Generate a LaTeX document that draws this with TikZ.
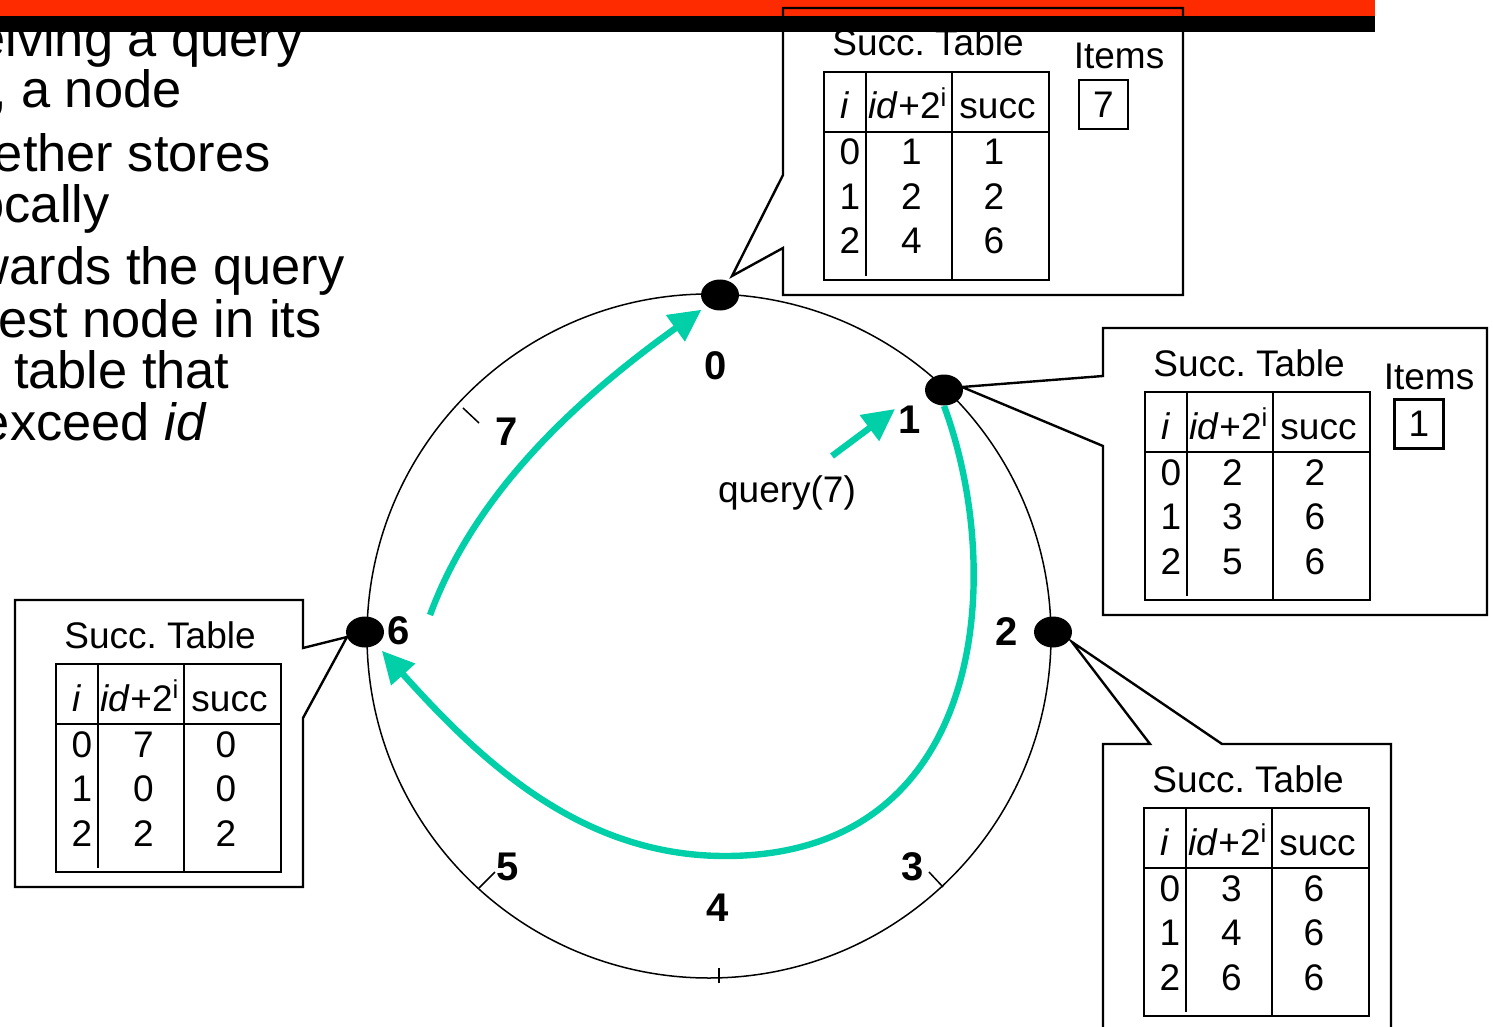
\documentclass[tikz,border=0pt]{standalone}
\usepackage{fontspec}
\setmainfont{Liberation Sans}
\usetikzlibrary{arrows.meta,shapes.geometric}
\definecolor{hopgreen}{HTML}{00CFA8}
\definecolor{barred}{HTML}{FF2B00}
\frenchspacing

% one successor table, top left corner at #2
\newcommand{\succtable}[3]{%
  \begin{scope}[shift={#2}]
    \node[tabtext] (#1title) at (104,-16) {Succ. Table};
    \draw[tabline] (0,0) rectangle (225,208);
    \draw[tabline] (0,60) -- (225,60) (128,0) -- (128,208);
    \draw[tabline] (42,0) -- (42,204);
    \node[tabtext] (#1i) at (21,47) {\textit{i}};
    \node[tabtext] (#1id) at (84,47) {\textit{id}+2\textsuperscript{i}};
    \node[tabtext] (#1succ) at (173.5,47) {succ};
    \foreach \tg/\nx [count=\k from 0] in {#3} {
      \node[tabtext] (#1row\k) at (26,93+44.5*\k) {\k};
      \node[tabtext] (#1tg\k) at (87.5,93+44.5*\k) {\tg};
      \node[tabtext] (#1nx\k) at (170,93+44.5*\k) {\nx};
    }
  \end{scope}}

\begin{document}
\begin{tikzpicture}[x=0.5pt, y=-0.5pt,
	bodytext/.style={anchor=base east, inner sep=0pt, font=\fontsize{26.2}{30}\selectfont},
	tabtext/.style={anchor=base, inner sep=0pt, font=\fontsize{18.5}{22}\selectfont},
	ringlabel/.style={inner sep=0pt, font=\fontsize{20}{24}\selectfont\bfseries},
	itembox/.style={draw, line width=1.2pt, minimum size=24.5pt, inner sep=0pt, font=\fontsize{18.5}{22}\selectfont},
	ring/.style={line width=0.75pt},
	tabline/.style={line width=1.2pt},
	callout/.style={line width=1.2pt},
	dot/.style={ellipse, fill=black, inner sep=0pt, minimum width=19pt, minimum height=15.5pt},
	hop/.style={hopgreen, line width=3.2pt, -{Triangle[length=16pt, width=15.5pt]}}]
	\useasboundingbox (0,0) rectangle (1493,1027);
	\clip (0,0) rectangle (1493,1027);
	
	\fill[barred] (0,0) rectangle (1375,16.5);
	
	% bullet text, cut at the left
	\node[bodytext] (l1) at (303,57) {elving a query};
	\node[bodytext] (l2) at (182,108) {, a node};
	\node[bodytext] (l3) at (271,172) {ether stores};
	\node[bodytext] (l4) at (110,223) {ocally};
	\node[bodytext] (l5) at (345,285) {wards the query};
	\node[bodytext] (l6) at (322,337) {est node in its};
	\node[bodytext] (l7) at (230,388) {table that};
	\node[bodytext] (l8) at (207,440) {exceed \textit{id}};
	
	% the ring
	\coordinate (ctr) at (709,636);
	\draw[ring] (ctr) circle [radius=342];
	\draw[ring] (463,408) -- (479,423);
	\draw[ring] (479,888) -- (495,872);
	\draw[ring] (943,887) -- (929,872);
	\draw[ring] (719,968) -- (719,983);
	
	\node[ringlabel] (lab0) at (716,366) {0};
	\node[ringlabel] (lab1) at (910,420) {1};
	\node[ringlabel] (lab2) at (1007,632) {2};
	\node[ringlabel] (lab3) at (913,867) {3};
	\node[ringlabel] (lab4) at (718,908) {4};
	\node[ringlabel] (lab5) at (508,867) {5};
	\node[ringlabel] (lab6) at (399,631) {6};
	\node[ringlabel] (lab7) at (507,432) {7};
	
	% callouts
	\draw[callout] (783,8) -- (1183,8) -- (1183,295) -- (783,295) -- (783,248) -- (732,276) -- (783,175) -- cycle;
	\draw[callout] (1103,328) -- (1487,328) -- (1487,615) -- (1103,615) -- (1103,446) -- (962,387) -- (1103,376) -- cycle;
	\draw[callout] (15,600) -- (303,600) -- (303,648) -- (347,637) -- (303,718) -- (303,887) -- (15,887) -- cycle;
	\draw[callout] (1103,744) -- (1150,744) -- (1072,642) -- (1222,744) -- (1391,744) -- (1391,1040) -- (1103,1040) -- cycle;
	
	\succtable{nzero}{(824,72)}{1/1,2/2,4/6}
	\succtable{none}{(1145,392)}{2/2,3/6,5/6}
	\succtable{nsix}{(56,664)}{7/0,0/0,2/2}
	\succtable{ntwo}{(1144,808)}{3/6,4/6,6/6}
	
	\node[tabtext] (itemszero) at (1119,69) {Items};
	\node[itembox] (itemzero) at (1103.5,104.5) {7};
	\node[tabtext] (itemsone) at (1429,389) {Items};
	\node[itembox] (itemone) at (1419,424) {1};
	
	% nodes on the ring
	\node[dot] (n0) at (720,295) {};
	\node[dot] (n1) at (944,390) {};
	\node[dot] (n2) at (1053,632) {};
	\node[dot] (n6) at (365,632) {};
	
	% lookup of query(7)
	\node[tabtext] (query) at (787,502) {query(7)};
	\coordinate (qtail) at (832,456);
	\coordinate (qhead) at (895,409);
	\coordinate (low) at (725,856);
	\coordinate (hopsix) at (430,615);
	\draw[hop] (qtail) -- (qhead);
	\draw[hop, shorten >=4pt] (n1.south) .. controls (1005,570) and (990,856) .. (low) .. controls (580,856) and (480,760) .. (n6);
	\draw[hop, shorten >=3pt] (hopsix) .. controls (465,520) and (540,425) .. (n0.south west);
	
	\fill[black] (0,16.5) rectangle (1375,32);
\end{tikzpicture}
\end{document}
